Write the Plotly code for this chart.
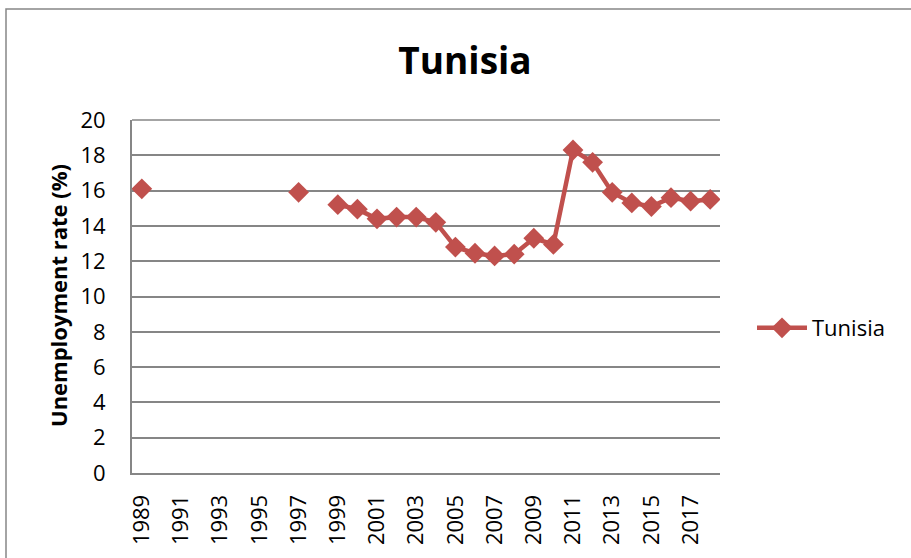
import plotly.graph_objects as go

years = [str(y) for y in range(1989, 2019)]
rates = [16.1, None, None, None, None, None, None, None, 15.9, None,
         15.2, 14.95, 14.4, 14.5, 14.5, 14.2, 12.8, 12.45, 12.3, 12.4,
         13.3, 12.95, 18.3, 17.6, 15.9, 15.3, 15.1, 15.6, 15.4, 15.5]
tick_years = [str(y) for y in range(1989, 2019, 2)]
y_ticks = list(range(0, 21, 2))

W, H = 911, 558
L, R, T, B = 132, 720, 120, 473
FONT = "Open Sans"
RED = "#C0504D"
GRID = "#868686"

def px(x):
    return (x - L) / (R - L)

def py(y):
    return (B - y) / (B - T)

fig = go.Figure()
fig.add_trace(go.Scatter(
    x=years, y=rates, mode="lines+markers", name="Tunisia",
    connectgaps=False,
    line=dict(color=RED, width=4.5),
    marker=dict(symbol="diamond", size=16, color=RED),
))

fig.update_layout(
    width=W, height=H,
    margin=dict(l=L, r=W - R, t=T, b=H - B, pad=0),
    paper_bgcolor="white", plot_bgcolor="white",
    font=dict(family=FONT, size=22, color="black"),
    title=dict(text="<b>Tunisia</b>", x=px(465), xref="paper", xanchor="center",
               y=1 - 61 / H, yanchor="middle", font=dict(size=37, family=FONT)),
    showlegend=True,
    legend=dict(x=px(752), y=py(328), xanchor="left", yanchor="middle",
                font=dict(size=22, family=FONT), bgcolor="rgba(0,0,0,0)",
                itemwidth=50),
    xaxis=dict(
        type="category", categoryorder="array", categoryarray=years,
        tickmode="array", tickvals=tick_years, ticktext=tick_years,
        tickangle=-90, showgrid=False, showline=True, linecolor=GRID, linewidth=2,
        ticks="", ticklabelstandoff=11, automargin=False,
        range=[-0.5, len(years) - 0.5], tickfont=dict(size=22),
    ),
    yaxis=dict(
        range=[0, 20], tickmode="array", tickvals=y_ticks,
        showgrid=True, gridcolor=GRID, gridwidth=1.5,
        showline=True, linecolor=GRID, linewidth=2, zeroline=False,
        ticks="", ticklabelstandoff=20, automargin=False, tickfont=dict(size=22),
    ),
    annotations=[dict(
        text="<b>Unemployment rate (%)</b>", xref="paper", yref="paper",
        x=px(58), y=py(296), textangle=-90, showarrow=False,
        xanchor="center", yanchor="middle", font=dict(size=22, family=FONT),
    )],
    shapes=[dict(
        type="rect", xref="paper", yref="paper",
        x0=px(6), x1=px(930), y0=py(575), y1=py(9),
        line=dict(color=GRID, width=1.5), fillcolor="rgba(0,0,0,0)", layer="below",
    ), dict(
        type="line", xref="paper", yref="paper",
        x0=0, x1=1, y0=1, y1=1, line=dict(color=GRID, width=1.5),
    )],
)

fig.write_html("out.html", config={"displayModeBar": False},
               post_script="document.body.style.margin='0';document.body.style.overflow='hidden';")
